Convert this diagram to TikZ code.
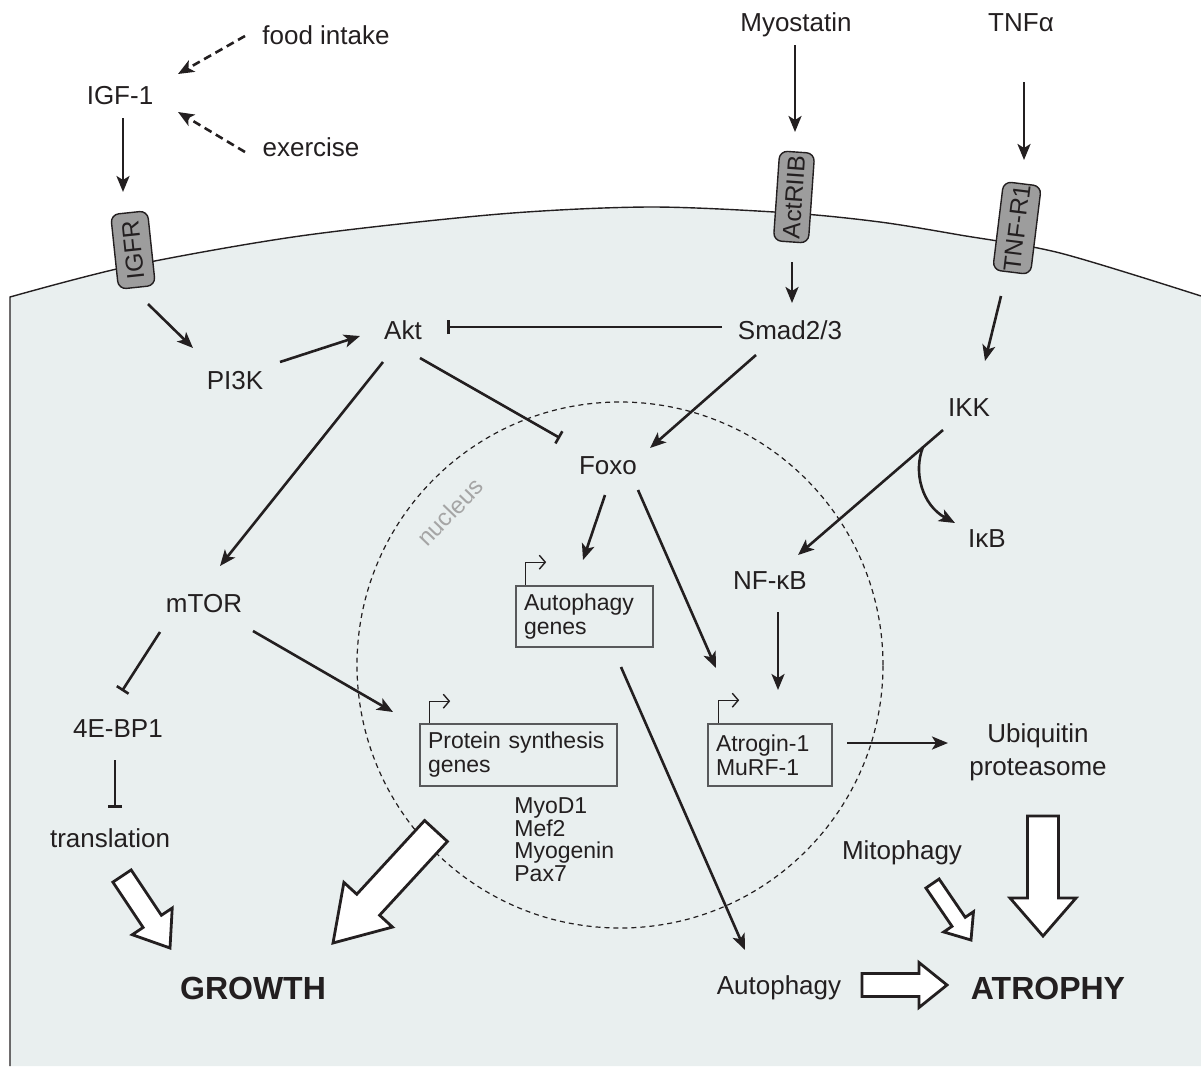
\documentclass[tikz,border=0pt]{standalone}
\usepackage{fontspec}
\setmainfont{Liberation Sans}
\usetikzlibrary{arrows.meta,calc}
\definecolor{cellfill}{RGB}{233,239,239}
\definecolor{ink}{RGB}{35,31,32}
\definecolor{recfill}{RGB}{157,157,157}
\definecolor{boxline}{RGB}{88,89,91}
\definecolor{nucgray}{RGB}{165,165,165}
\tikzset{
 lbl/.style={font=\fontsize{26}{31}\selectfont, text=ink, inner sep=0pt, text height=19pt, text depth=0pt},
 biglbl/.style={font=\bfseries\fontsize{32}{36}\selectfont, text=ink, inner sep=0pt, text height=23pt, text depth=0pt},
 receptor/.style={draw=ink, fill=recfill, rounded corners=8pt, line width=1.4pt, font=\fontsize{24.5}{26}\selectfont, text=ink, inner sep=0pt},
 genebox/.style={draw=boxline, line width=1.6pt, font=\fontsize{23}{24}\selectfont, text=ink, align=left, inner xsep=8pt, inner ysep=0pt},
 act/.style={draw=ink, line width=2.6pt, -{Stealth[length=16pt,width=13pt,inset=4pt]}},
 dact/.style={act, dash pattern=on 8pt off 5pt},
 inh/.style={draw=ink, line width=2.6pt, -{Bar[width=14pt]}},
 prom/.style={draw=ink, line width=1.4pt, -{Straight Barb[length=6pt,width=14pt]}},
 fatarr/.style={draw=ink, fill=white, line width=2.8pt, line join=miter},
}
\newcommand\fatarrow[5]{%
 \coordinate (fa-a) at #1; \coordinate (fa-b) at #2;
 \coordinate (fa-c) at ($(fa-b)!#5pt!(fa-a)$);
 \draw[fatarr] ($(fa-a)!#3pt!90:(fa-b)$) -- ($(fa-c)!#3pt!90:(fa-b)$) -- ($(fa-c)!#4pt!90:(fa-b)$) -- (fa-b)
   -- ($(fa-c)!#4pt!-90:(fa-b)$) -- ($(fa-c)!#3pt!-90:(fa-b)$) -- ($(fa-a)!#3pt!-90:(fa-b)$) -- cycle;}
\begin{document}
\begin{tikzpicture}[x=1pt,y=-1pt]
\useasboundingbox (0,0) rectangle (1201,1066);
% cell
\fill[cellfill] (10,1066) -- plot[smooth] coordinates {(10,297) (130,266) (300,236) (500,214) (650,207) (790,213) (880,222) (960,235) (1060,253) (1201,296)} -- (1201,1066) -- cycle;
\draw[ink, line width=1.4pt] (10,1066) -- plot[smooth] coordinates {(10,297) (130,266) (300,236) (500,214) (650,207) (790,213) (880,222) (960,235) (1060,253) (1201,296)};
% nucleus
\node[draw=ink, dash pattern=on 5pt off 4pt, line width=1.2pt, circle, minimum size=526pt, inner sep=0pt] (nucleus) at (620,665) {};
\node[font=\fontsize{24}{24}\selectfont, text=nucgray, rotate=46, inner sep=0pt] (nuclbl) at (450,512) {nucleus};
% labels
\node[lbl] (food) at (326,35) {food intake};
\node[lbl] (igf) at (120,95) {IGF-1};
\node[lbl] (exer) at (311,147) {exercise};
\node[lbl] (myo) at (796,22) {Myostatin};
\node[lbl] (tnfa) at (1021,22) {TNFα};
\node[receptor, rotate=96, minimum width=75pt, minimum height=37pt] (igfr) at (133,250) {IGFR};
\node[receptor, rotate=86, minimum width=90pt, minimum height=35pt] (actr) at (794,197) {ActRIIB};
\node[receptor, rotate=83, minimum width=89pt, minimum height=38pt] (tnfr) at (1017,228) {TNF-R1};
\node[lbl] (akt) at (403,330) {Akt};
\node[lbl] (smad) at (790,330) {Smad2/3};
\node[lbl] (pi3k) at (235,380) {PI3K};
\node[lbl] (ikk) at (969,407) {IKK};
\node[lbl] (foxo) at (608,465) {Foxo};
\node[lbl] (ikb) at (987,538) {IκB};
\node[lbl] (nfkb) at (770,580) {NF-κB};
\node[lbl] (mtor) at (204,603) {mTOR};
\node[lbl] (e4bp) at (118,728) {4E-BP1};
\node[lbl] (transl) at (110,838) {translation};
\node[font=\fontsize{26}{33}\selectfont, text=ink, inner sep=0pt, align=center] (ubi) at (1038,752) {Ubiquitin\\proteasome};
\node[lbl] (mito) at (902,850) {Mitophagy};
\node[lbl] (autoph) at (779,985) {Autophagy};
\node[biglbl] (growth) at (253,988) {GROWTH};
\node[biglbl] (atrophy) at (1048,988) {ATROPHY};
% gene boxes
\node[genebox, minimum width=137pt, minimum height=61pt, text width=121pt] (agenes) at (584.5,616.5) {Autophagy\\genes};
\node[genebox, minimum width=197pt, minimum height=62pt, text width=181pt] (pgenes) at (518.5,755) {Protein synthesis\\genes};
\node[genebox, minimum width=124pt, minimum height=62pt, text width=108pt] (atro) at (770,755) {Atrogin-1\\MuRF-1};
\node[font=\fontsize{23}{22.5}\selectfont, text=ink, inner sep=0pt, anchor=north west, align=left] (myod) at ($(pgenes.south west)+(95,11)$) {MyoD1\\Mef2\\Myogenin\\Pax7};
\draw[prom] ($(agenes.north west)+(10,0)$) -- ++(0,-23) -- ++(21,0);
\draw[prom] ($(pgenes.north west)+(10,0)$) -- ++(0,-22) -- ++(21,0);
\draw[prom] ($(atro.north west)+(11,0)$) -- ++(0,-23) -- ++(21,0);
% connectors
\draw[dact] ($(food)+(-81,1)$) -- ($(igf)+(58,-21)$);
\draw[dact] ($(exer)+(-66,5)$) -- ($(igf)+(58,17)$);
\draw[act] ($(igf)+(3,23)$) -- ($(igfr)+(-10,-58)$);
\draw[act] ($(myo)+(-1,23)$) -- ($(actr)+(1,-65)$);
\draw[act] ($(tnfa)+(3,60)$) -- ($(tnfr)+(7,-68)$);
\draw[act] ($(igfr)+(15,54)$) -- ($(pi3k)+(-42,-32)$);
\draw[act] ($(pi3k)+(45,-18)$) -- ($(akt)+(-43,6)$);
\draw[inh] ($(smad)+(-68,-3)$) -- ($(akt)+(44,-3)$);
\draw[act] ($(actr)+(-2,65)$) -- ($(smad)+(2,-27)$);
\draw[act] ($(tnfr)+(-16,68)$) -- ($(ikk)+(16,-46)$);
\draw[inh] ($(akt)+(17,28)$) -- ($(foxo)+(-48,-27)$);
\draw[act] ($(smad)+(-34,25)$) -- ($(foxo)+(42,-17)$);
\draw[act] ($(akt)+(-20,32)$) -- ($(mtor)+(16,-37)$);
\draw[act] ($(ikk)+(-26,23)$) -- ($(nfkb)+(28,-25)$);
\draw[act] ($(ikk)+(-46,40)$) .. controls ($(ikk)+(-56,65)$) and ($(ikk)+(-47,98)$) .. ($(ikb)+(-32,-15)$);
\draw[act] ($(foxo)+(-3,30)$) -- ($(agenes)+(-1.5,-56.5)$);
\draw[act] ($(foxo)+(30,25)$) -- ($(atro)+(-54,-87)$);
\draw[act] ($(nfkb)+(8,32)$) -- ($(atro)+(8,-65)$);
\draw[inh] ($(mtor)+(-44,29)$) -- ($(e4bp)+(4,-37)$);
\draw[inh] ($(e4bp)+(-3,32)$) -- ($(transl)+(5,-30)$);
\draw[act] ($(mtor)+(49,28)$) -- ($(pgenes)+(-125.5,-43)$);
\draw[act] ($(agenes)+(36.5,50.5)$) -- ($(autoph)+(-34,-35)$);
\draw[act] ($(atro)+(77,-12)$) -- ($(ubi)+(-90,-9)$);
% block arrows
\fatarrow{($(transl)+(12,38)$)}{($(growth)+(-83,-40)$)}{11}{24}{32}
\fatarrow{($(pgenes)+(-82.5,76)$)}{($(growth)+(80,-45)$)}{15.5}{33}{52}
\fatarrow{($(mito)+(30.5,33.5)$)}{($(atrophy)+(-77,-48)$)}{8}{18}{22}
\fatarrow{($(ubi)+(5,64)$)}{($(atrophy)+(-5,-52)$)}{15.5}{33}{38}
\fatarrow{($(autoph)+(83,0)$)}{($(atrophy)+(-101,-3)$)}{11.5}{22.5}{28}
\end{tikzpicture}
\end{document}
